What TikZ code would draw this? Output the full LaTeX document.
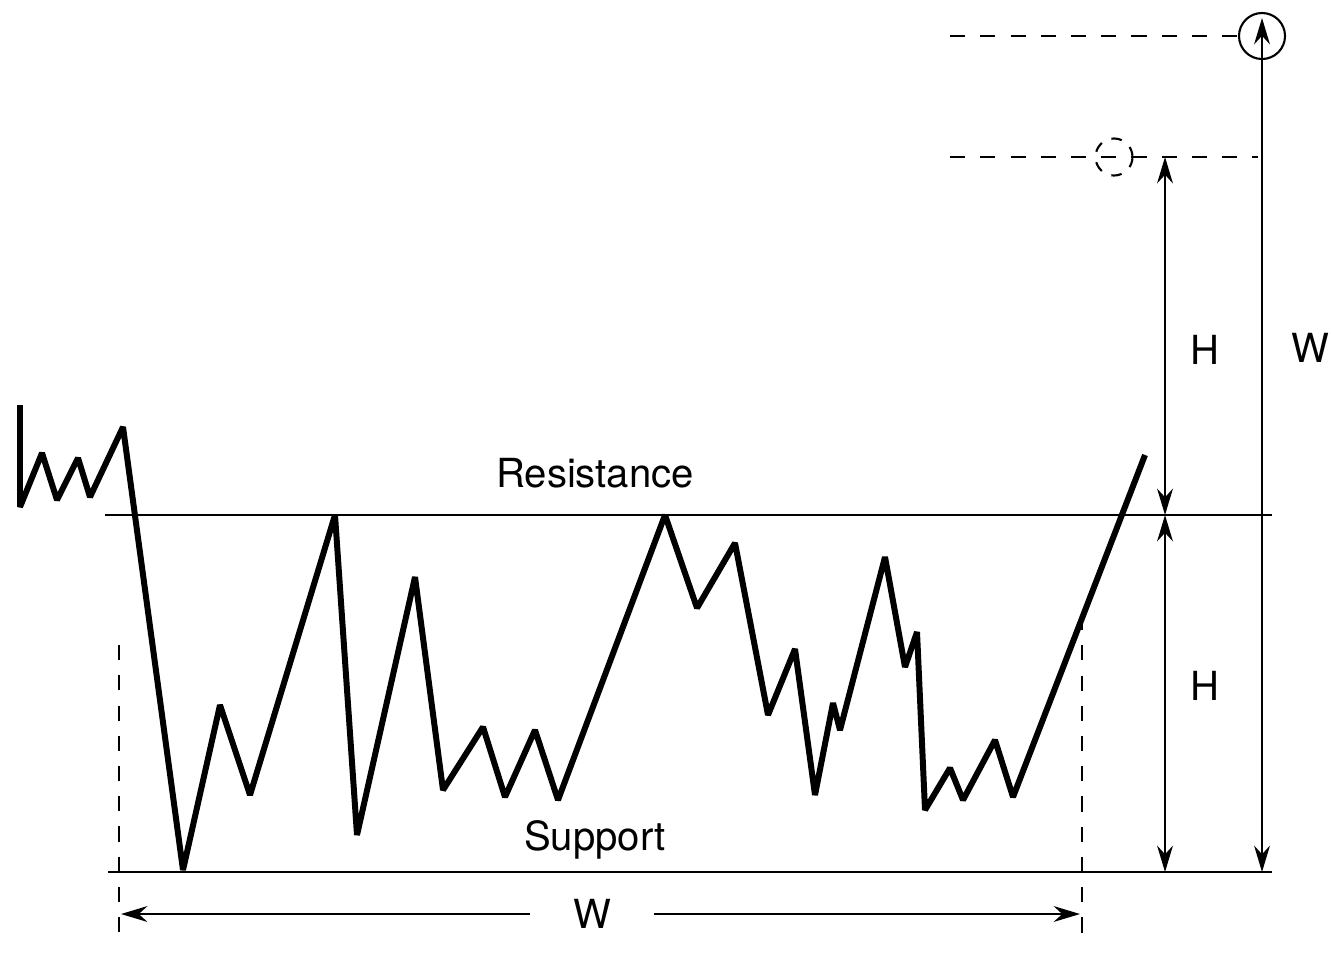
\documentclass[tikz,border=0pt]{standalone}
\usepackage{fontspec}
\setmainfont{TeX Gyre Heros}
\usetikzlibrary{arrows.meta}
\tikzset{
  price/.style={line width=1.7pt,line join=miter,miter limit=2},
  level/.style={line width=0.6pt},
  guide/.style={line width=0.6pt,dash pattern=on 4.3pt off 4.3pt},
  span/.style={line width=0.6pt,{Stealth[length=7.5pt,width=4.5pt]}-{Stealth[length=7.5pt,width=4.5pt]}},
  tag/.style={font=\fontsize{11.4}{13}\selectfont,inner sep=0pt}
}
\begin{document}
\begin{tikzpicture}[x=0.01cm,y=-0.01cm]
  \useasboundingbox (0,0) rectangle (1331,954);
  % support and resistance
  \coordinate (resL) at (105,515);
  \coordinate (resR) at (1272,515);
  \coordinate (supL) at (108,872);
  \coordinate (supR) at (1272,872);
  \draw[level] (resL) -- (resR);
  \draw[level] (supL) -- (supR);
  \node[tag] (resist) at (595,473) {Resistance};
  \node[tag] (support) at (595,840) {Support};
  % price path
  \draw[price] (20,405) -- (20,507) -- (42,453) -- (57,500) -- (78,458) -- (90,497)
    -- (123,427) -- (183,870) -- (220,705) -- (250,795) -- (335,515) -- (357,835)
    -- (415,577) -- (443,790) -- (483,727) -- (505,797) -- (535,730) -- (558,800)
    -- (665,515) -- (697,608) -- (735,543) -- (768,715) -- (795,649) -- (815,795)
    -- (833,703) -- (840,730) -- (885,557) -- (905,667) -- (917,632) -- (925,810)
    -- (950,768) -- (963,800) -- (995,740) -- (1013,797) -- (1145,455);
  % width of the range
  \coordinate (wTopL) at (119,645);
  \coordinate (wBotL) at (119,940);
  \coordinate (wTopR) at (1082,615);
  \coordinate (wBotR) at (1082,940);
  \draw[guide] (wTopL) -- (wBotL);
  \draw[guide] (wTopR) -- (wBotR);
  \node[tag,inner xsep=12pt,inner ysep=3pt] (wLabel) at (592,914) {W};
  \coordinate (wArrL) at (121,914);
  \coordinate (wArrR) at (1080,914);
  \draw[level,{Stealth[length=7.5pt,width=4.5pt]}-] (wArrL) -- (wLabel.west);
  \draw[level,-{Stealth[length=7.5pt,width=4.5pt]}] (wLabel.east) -- (wArrR);
  % targets
  \node[draw,circle,line width=0.6pt,minimum size=0.46cm,inner sep=0pt] (target) at (1262,36) {};
  \node[draw,circle,guide,dash pattern=on 3pt off 3pt,minimum size=0.37cm,inner sep=0pt] (target2) at (1114,157) {};
  \coordinate (t1L) at (950,36);
  \coordinate (t2L) at (950,157);
  \coordinate (t2R) at (1258,157);
  \draw[guide] (t1L) -- (target.west);
  \draw[guide] (t2L) -- (t2R);
  % heights
  \coordinate (hTop) at (1165,157);
  \coordinate (hMid) at (1165,515);
  \coordinate (hBot) at (1165,872);
  \draw[span] (hTop) -- (hMid);
  \draw[span] (hMid) -- (hBot);
  \node[tag] (hUpper) at (1205,350) {H};
  \node[tag] (hLower) at (1205,686) {H};
  \coordinate (wUp) at (1262,18);
  \coordinate (wDown) at (1262,872);
  \draw[span] (wUp) -- (wDown);
  \node[tag] (wRight) at (1310,348) {W};
\end{tikzpicture}
\end{document}
